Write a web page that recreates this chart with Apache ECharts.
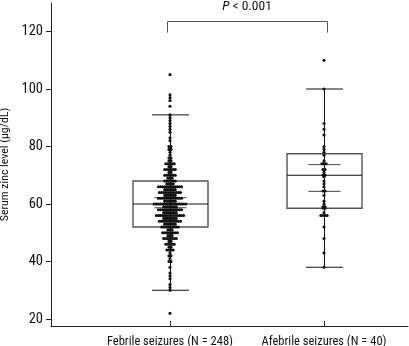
<!DOCTYPE html>
<html>
<head>
<meta charset="utf-8">
<script src="https://cdn.jsdelivr.net/npm/echarts@6/dist/echarts.min.js"></script>
<style>
  html, body { margin: 0; padding: 0; background: #fff; }
  #chart { width: 409px; height: 346px; }
</style>
</head>
<body>
<div id="chart"></div>
<script>
// groups on the x axis (x = 1 and x = 2)
const categories = ['Febrile seizures (N = 248)', 'Afebrile seizures (N = 40)'];
const yTicks = [20, 40, 60, 80, 100, 120];

// febrile group: value levels and how many children sit on each level
const febrileLevels = [22, 30, 31, 32, 34, 35, 36, 38, 40, 41, 42, 43, 44, 45, 46, 47, 48, 49, 50, 51,
  52, 53, 54, 55, 56, 57, 58, 59, 60, 61, 62, 63, 64, 65, 66, 67, 68, 69, 70, 71,
  72, 73, 74, 75, 76, 77, 78, 79, 80, 82, 83, 85, 86, 87, 88, 89, 90, 91, 94, 96, 97, 98, 105];
const febrileCounts = [1, 1, 1, 1, 1, 1, 1, 1, 2, 1, 2, 1, 4, 2, 5, 2, 7, 3, 8, 3,
  9, 6, 11, 7, 14, 7, 12, 7, 16, 6, 12, 6, 11, 6, 12, 4, 6, 3, 6, 2,
  6, 2, 5, 2, 2, 1, 1, 2, 2, 1, 1, 1, 1, 1, 1, 1, 1, 1, 1, 1, 1, 1, 1];

// afebrile group: single values
const afebrileValues = [110, 100, 88, 86, 84, 80, 79, 78, 77, 75, 74, 74, 74, 72, 72, 71, 70, 70, 69.5, 68,
  67, 66, 64.5, 64.5, 63, 61, 60, 59, 59, 58.5, 58.5, 57, 56, 56, 56, 56, 52, 48, 43, 38];

// box stats: [lower whisker, Q1, median, Q3, upper whisker]
const febrileBox = [30, 52, 60, 68, 91];
const afebrileBox = [38, 58.5, 70, 77.5, 100];
// short inner lines (confidence interval of the mean)
const febrileCi = [58.7, 62.2];
const afebrileCi = [64.4, 73.7];

// significance bracket
const bracketX = [0.98, 2.02];
const bracketY = [119.6, 123.8];
const pLabelY = 128.7;

const FONT = "'Roboto Condensed', 'DejaVu Sans Condensed', sans-serif";
const dotStep = 2.1 / 154; // x units between dots on one row

// lay out dots side by side on each value level
function swarm(x, values) {
  const rows = {};
  values.forEach(v => { (rows[v] = rows[v] || []).push(v); });
  const pts = [];
  Object.keys(rows).forEach(k => {
    const n = rows[k].length;
    for (let i = 0; i < n; i++) {
      pts.push([x + (i - (n - 1) / 2) * dotStep, Number(k)]);
    }
  });
  return pts;
}

const febrileValues = [];
febrileLevels.forEach((v, i) => { for (let j = 0; j < febrileCounts[i]; j++) febrileValues.push(v); });

const dots = swarm(1, febrileValues).concat(swarm(2, afebrileValues));

const boxData = [
  [1].concat(febrileBox, febrileCi),
  [2].concat(afebrileBox, afebrileCi)
];

function renderBox(params, api) {
  const x = api.value(0);
  const pt = v => api.coord([x, v]);
  const lo = pt(api.value(1)), q1 = pt(api.value(2)), med = pt(api.value(3));
  const q3 = pt(api.value(4)), hi = pt(api.value(5));
  const ciLo = pt(api.value(6)), ciHi = pt(api.value(7));
  const cx = Math.round(lo[0]) + 0.5;
  const boxW = 37.5, capW = 18.5, ciW = 16;
  const hline = (y, w, stroke) => ({
    type: 'line',
    shape: { x1: cx - w, y1: y, x2: cx + w, y2: y },
    style: { stroke: stroke, lineWidth: 1 }
  });
  return {
    type: 'group',
    children: [
      { type: 'line', shape: { x1: cx, y1: hi[1], x2: cx, y2: lo[1] }, style: { stroke: '#111', lineWidth: 1 } },
      { type: 'rect', shape: { x: cx - boxW, y: q3[1], width: 2 * boxW, height: q1[1] - q3[1] },
        style: { fill: 'rgba(0,0,0,0)', stroke: '#555', lineWidth: 1.4 } },
      hline(med[1], boxW, '#111'),
      hline(hi[1], capW, '#111'),
      hline(lo[1], capW, '#111'),
      hline(ciHi[1], ciW, '#444'),
      hline(ciLo[1], ciW, '#444')
    ]
  };
}

function renderBracket(params, api) {
  const a = api.coord([api.value(0), api.value(2)]);
  const b = api.coord([api.value(1), api.value(3)]);
  const top = Math.round(b[1]) + 0.5, bottom = a[1];
  const t = api.coord([(api.value(0) + api.value(1)) / 2, api.value(4)]);
  return {
    type: 'group',
    children: [
      { type: 'polyline', shape: { points: [[Math.round(a[0]) + 0.5, bottom], [Math.round(a[0]) + 0.5, top], [Math.round(b[0]) + 0.5, top], [Math.round(b[0]) + 0.5, bottom]] },
        style: { stroke: '#555', lineWidth: 1, fill: null } },
      { type: 'text', x: t[0], y: t[1],
        style: {
          text: '{i|P}{n| < 0.001}',
          align: 'center', verticalAlign: 'middle',
          rich: {
            i: { fontFamily: FONT, fontSize: 13.5, fontStyle: 'italic', fill: '#111' },
            n: { fontFamily: FONT, fontSize: 13.5, fill: '#111' }
          }
        } }
    ]
  };
}

const chart = echarts.init(document.getElementById('chart'), null, { renderer: 'canvas' });
chart.setOption({
  animation: false,
  grid: { left: 51, right: 1, top: 3, bottom: 20, outerBoundsMode: 'none', containLabel: false },
  xAxis: {
    type: 'value',
    min: 1 - 119 / 154,
    max: 2 + 84 / 154,
    splitLine: { show: false },
    axisLine: { show: true, onZero: false, lineStyle: { color: '#222', width: 1 } },
    axisTick: { show: true, inside: true, length: 5, customValues: [1, 2], lineStyle: { color: '#222' } },
    axisLabel: {
      customValues: [1, 2],
      showMinLabel: true,
      showMaxLabel: true,
      hideOverlap: false,
      formatter: v => categories[Math.round(v) - 1],
      margin: 9.5,
      color: '#111',
      fontFamily: FONT,
      fontSize: 12.5
    }
  },
  yAxis: {
    type: 'value',
    min: 20 - 7 / 2.875,
    max: 20 - 7 / 2.875 + 323 / 2.875,
    name: 'Serum zinc level (μg/dL)',
    nameLocation: 'middle',
    nameRotate: 90,
    nameGap: 34,
    nameTextStyle: { fontFamily: FONT, fontSize: 11.8, color: '#111' },
    splitLine: { show: false },
    axisLine: { show: true, lineStyle: { color: '#222', width: 1 } },
    axisTick: { show: true, length: 5, customValues: yTicks, lineStyle: { color: '#222' } },
    axisLabel: { customValues: yTicks, showMinLabel: true, showMaxLabel: true, margin: 8, color: '#111', fontFamily: FONT, fontSize: 14.5 }
  },
  series: [
    { type: 'custom', renderItem: renderBox, data: boxData, z: 2, silent: true },
    {
      type: 'scatter',
      data: dots,
      symbol: 'circle',
      symbolSize: 3.1,
      itemStyle: { color: '#111', opacity: 1 },
      z: 3,
      silent: true
    },
    {
      type: 'custom',
      renderItem: renderBracket,
      data: [[bracketX[0], bracketX[1], bracketY[0], bracketY[1], pLabelY]],
      z: 4,
      silent: true,
      clip: false
    }
  ]
});
</script>
</body>
</html>
